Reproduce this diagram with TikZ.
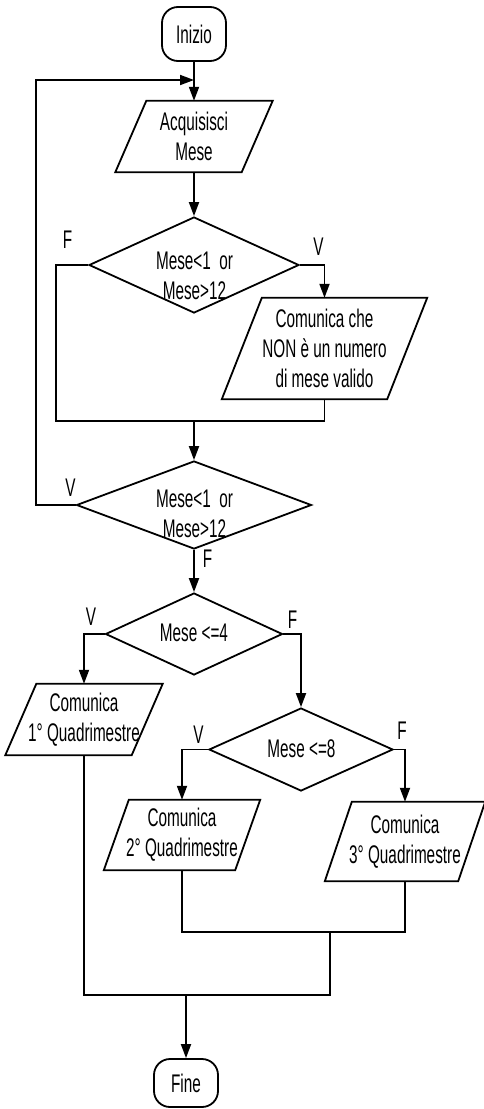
\documentclass[tikz,border=0pt]{standalone}
\usepackage{fontspec}
\setmainfont[FakeStretch=0.6]{Liberation Sans}
\usetikzlibrary{shapes.geometric,arrows.meta}
\tikzset{
  line/.style={line width=1.8pt},
  arr/.style={line, -{Triangle[length=14pt,width=10pt]}},
  term/.style={draw, line width=1.8pt, rounded corners=16pt, minimum width=64pt, inner sep=0pt},
  iobox/.style={inner sep=0pt, align=center},
  dec/.style={draw, diamond, line width=1.8pt, inner sep=0pt},
  txt/.style={inner sep=0pt, align=center},
}
\newcommand{\ioshape}[2]{\draw[line] ([xshift=#2]#1.north west) -- (#1.north east) -- ([xshift=-#2]#1.south east) -- (#1.south west) -- cycle;}
\begin{document}
\begin{tikzpicture}[x=1pt, y=-1pt, font=\fontsize{25.5}{30}\selectfont]
\useasboundingbox (0,0) rectangle (484,1109);
\node[term, minimum height=54pt] (ini) at (194,34) {Inizio};
\node[iobox, minimum width=157pt, minimum height=71pt] (acq) at (194,136.5) {Acquisisci\\Mese};
\node[dec, minimum width=210pt, minimum height=96pt] (d1) at (194,265) {};
\node[txt] (t1) at (194.5,276) {Mese<1\ \ or\\Mese>12};
\node[iobox, minimum width=205pt, minimum height=101pt] (err) at (324.5,348.5) {Comunica che\\NON è un numero\\di mese valido};
\node[dec, minimum width=235pt, minimum height=88pt] (d2) at (194,505) {};
\node[txt] (t2) at (194.5,514) {Mese<1\ \ or\\Mese>12};
\node[dec, minimum width=177pt, minimum height=82pt] (d3) at (194,634) {};
\node[txt] (t3) at (194,633) {Mese <=4};
\node[iobox, minimum width=157pt, minimum height=71pt] (q1) at (84,719.5) {Comunica\\1° Quadrimestre};
\node[dec, minimum width=184pt, minimum height=83pt] (d4) at (301,749.5) {};
\node[txt] (t4) at (301.5,749) {Mese <=8};
\node[iobox, minimum width=156pt, minimum height=70pt] (q2) at (182,835) {Comunica\\2° Quadrimestre};
\node[iobox, minimum width=160pt, minimum height=79pt] (q3) at (405,841.5) {Comunica\\3° Quadrimestre};
\node[term, minimum height=48pt] (fine) at (186,1083) {Fine};
\ioshape{acq}{31}
\ioshape{err}{40}
\ioshape{q1}{31}
\ioshape{q2}{25}
\ioshape{q3}{27}
\node[txt] (lf1) at (67.5,240) {F};
\node[txt] (lv1) at (318.5,247) {V};
\node[txt] (lv2) at (70.5,488) {V};
\node[txt] (lf2) at (207.5,559) {F};
\node[txt] (lv3) at (91,617) {V};
\node[txt] (lf3) at (292.5,620) {F};
\node[txt] (lv4) at (198.5,735) {V};
\node[txt] (lf4) at (402,731) {F};
\coordinate (back) at (194,80);
\coordinate (j1) at (194,421);
\coordinate (j2) at (330,932);
\coordinate (j3) at (186,995);
\draw[arr] (ini) -- (acq);
\draw[arr] (acq) -- (d1);
\draw[line] (d1.west) -- ++(-32,0) |- (j1);
\draw[arr] (d1.east) -| (err.north);
\draw[line] (err.south) |- (j1);
\draw[arr] (j1) -- (d2.north);
\draw[arr] (d2.west) -- ++(-40,0) |- (back);
\draw[arr] (d2) -- (d3);
\draw[arr] (d3.west) -| (q1.north);
\draw[arr] (d3.east) -| (d4.north);
\draw[arr] (d4.west) -| (q2.north);
\draw[arr] (d4.east) -| (q3.north);
\draw[line] (q2.south) |- (j2) -| (q3.south);
\draw[line] (j2) |- (j3) -| (q1.south);
\draw[arr] (j3) -- (fine);
\end{tikzpicture}
\end{document}
